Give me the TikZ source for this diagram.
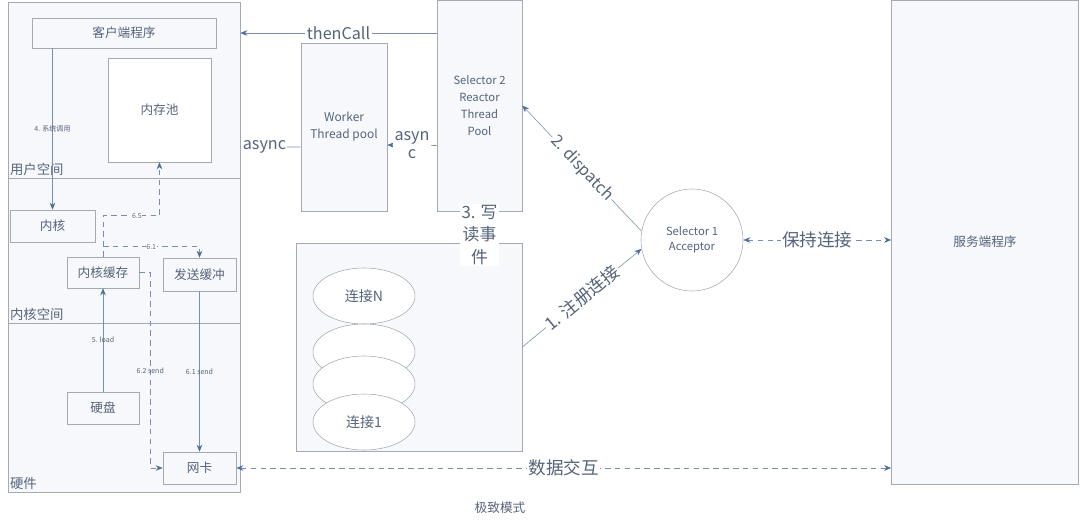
\documentclass[tikz,border=0pt]{standalone}
\usepackage{fontspec}
\setmainfont{Noto Sans CJK SC}
\usetikzlibrary{arrows.meta, positioning, shapes.geometric}
\definecolor{boxgray}{RGB}{165,170,178}
\definecolor{txtblue}{RGB}{85,100,122}
\definecolor{lnblue}{RGB}{120,142,170}
\definecolor{tipblue}{RGB}{75,110,160}
\definecolor{boxfill}{RGB}{247,248,251}

\begin{document}
\begin{tikzpicture}[
  x=0.025cm, y=-0.025cm,
  every node/.style={text=txtblue},
  box/.style={draw=boxgray, fill=boxfill, thin, inner sep=1pt, align=center,
              font=\fontsize{9}{11}\selectfont},
  zone/.style={draw=boxgray, fill=boxfill, thin, minimum width=5.8cm},
  zlbl/.style={anchor=south west, inner sep=1.5pt, font=\fontsize{9.5}{11}\selectfont},
  conn/.style={ellipse, draw=boxgray, fill=white, minimum width=2.55cm,
               minimum height=1.4cm, font=\fontsize{10}{12}\selectfont},
  arr/.style={draw=lnblue, -{Stealth[length=5pt,width=4pt,color=tipblue]}},
  darr/.style={arr, dash pattern=on 4pt off 3pt},
  dbl/.style={draw=lnblue, dash pattern=on 4pt off 3pt,
              {Stealth[length=5pt,width=4pt,color=tipblue]}-{Stealth[length=5pt,width=4pt,color=tipblue]}},
  tag/.style={fill=white, inner sep=1pt, font=\fontsize{12}{14}\selectfont},
  small/.style={inner sep=0.5pt, font=\fontsize{5}{6}\selectfont}
]
  \useasboundingbox (0,0) rectangle (1080,526);

  % left column: user / kernel / hardware
  \node[zone, minimum height=4.4cm]   (usr) at (124,90)    {};
  \node[zone, minimum height=3.625cm] (krn) at (124,250.5) {};
  \node[zone, minimum height=4.225cm] (hw)  at (124,407.5) {};
  \node[zlbl] (usrl) at (usr.south west) {用户空间};
  \node[zlbl] (krnl) at (krn.south west) {内核空间};
  \node[zlbl] (hwl)  at (hw.south west)  {硬件};

  \node[box, minimum width=4.6cm, minimum height=0.75cm] (client) at (124,33) {客户端程序};
  \node[box, fill=white, minimum width=2.575cm, minimum height=2.6cm] (pool) at (159.5,110) {内存池};
  \node[box, minimum width=2.125cm, minimum height=0.8cm] (kern)   at (52.5,226)  {内核};
  \node[box, minimum width=1.8cm, minimum height=0.775cm] (kcache) at (103,272.5)  {内核缓存};
  \node[box, minimum width=1.825cm, minimum height=0.825cm] (sbuf) at (199.5,274.5) {发送缓冲};
  \node[box, minimum width=1.8cm, minimum height=0.8cm]   (disk)   at (103,408)    {硬盘};
  \node[box, minimum width=1.825cm, minimum height=0.8cm] (nic)    at (199.5,468)  {网卡};

  % thread pools
  \node[box, minimum width=2.15cm, minimum height=4.2cm, font=\fontsize{8.5}{12}\selectfont]
       (worker) at (344,127) {Worker\\Thread pool};
  \node[box, minimum width=2.125cm, minimum height=5.275cm, font=\fontsize{8}{12}\selectfont]
       (sel2) at (479.5,105.5) {Selector 2\\Reactor\\Thread\\Pool};

  % connections
  \node[box, minimum width=5.65cm, minimum height=5.2cm] (connbox) at (409,347) {};
  \node[conn] (cN) at (364,296) {连接N};
  \node[conn] (c3) at (364,352) {};
  \node[conn] (c2) at (364,384) {};
  \node[conn] (c1) at (364,422) {连接1};

  \node[circle, draw=boxgray, fill=white, minimum size=2.55cm, align=center,
        font=\fontsize{8}{11}\selectfont] (acc) at (692,240) {Selector 1\\Acceptor};
  \node[box, minimum width=4.675cm, minimum height=12.1cm] (srv) at (985,242) {服务端程序};
  \node[font=\fontsize{9}{11}\selectfont] (mode) at (500,508) {极致模式};

  % inside the host
  \draw[arr] (kern.north |- client.south) -- node[small]{4. 系统调用} (kern.north);
  \draw[arr] (disk) -- node[small]{5. load} (kcache);
  \draw[darr] (kcache.north) -- ++(0,-41) -| node[small, fill=white, pos=0.3]{6.5} (pool.south);
  \draw[darr] (kcache.north) ++(0,-10) -| node[small, fill=white, pos=0.25]{6.1} (sbuf.north);
  \draw[darr] (kcache.east) -- ++(11,0) |- node[small, pos=0.25]{6.2 send} (nic.west);
  \draw[arr] (sbuf) -- node[small]{6.1 send} (nic);

  % between pools and host
  \draw[arr] (sel2.west |- client) -- node[tag, font=\fontsize{11.5}{13}\selectfont]{thenCall} (usr.east |- client);
  \draw[arr] ([yshift=-1cm]sel2.west) -- node[tag, align=center, font=\fontsize{11.5}{12.5}\selectfont]{asyn\\c} ([yshift=-0.45cm]worker.east);
  \draw[arr] ([yshift=-0.5cm]worker.west) -- node[tag, pos=0.6, font=\fontsize{11.5}{13}\selectfont]{async} ([yshift=-1.425cm]usr.east);
  \draw[draw=lnblue] (sel2.south) -- node[tag, pos=0.75, align=center, font=\fontsize{12}{16}\selectfont]{3. 写\\读事\\件} (sel2.south |- connbox.north);

  % acceptor
  \draw[arr] (acc.170) -- node[tag, sloped, font=\fontsize{11.5}{13}\selectfont]{2. dispatch} (sel2.east);
  \draw[arr] (connbox.east) -- node[tag, sloped, font=\fontsize{12.5}{14}\selectfont]{1. 注册连接} (acc.190);
  \draw[dbl] (acc.east) -- node[tag, font=\fontsize{12.5}{14}\selectfont]{保持连接} (srv.west |- acc.east);
  \draw[dbl] (nic) -- node[tag, font=\fontsize{12.5}{14}\selectfont]{数据交互} (srv.west |- nic);
\end{tikzpicture}
\end{document}
